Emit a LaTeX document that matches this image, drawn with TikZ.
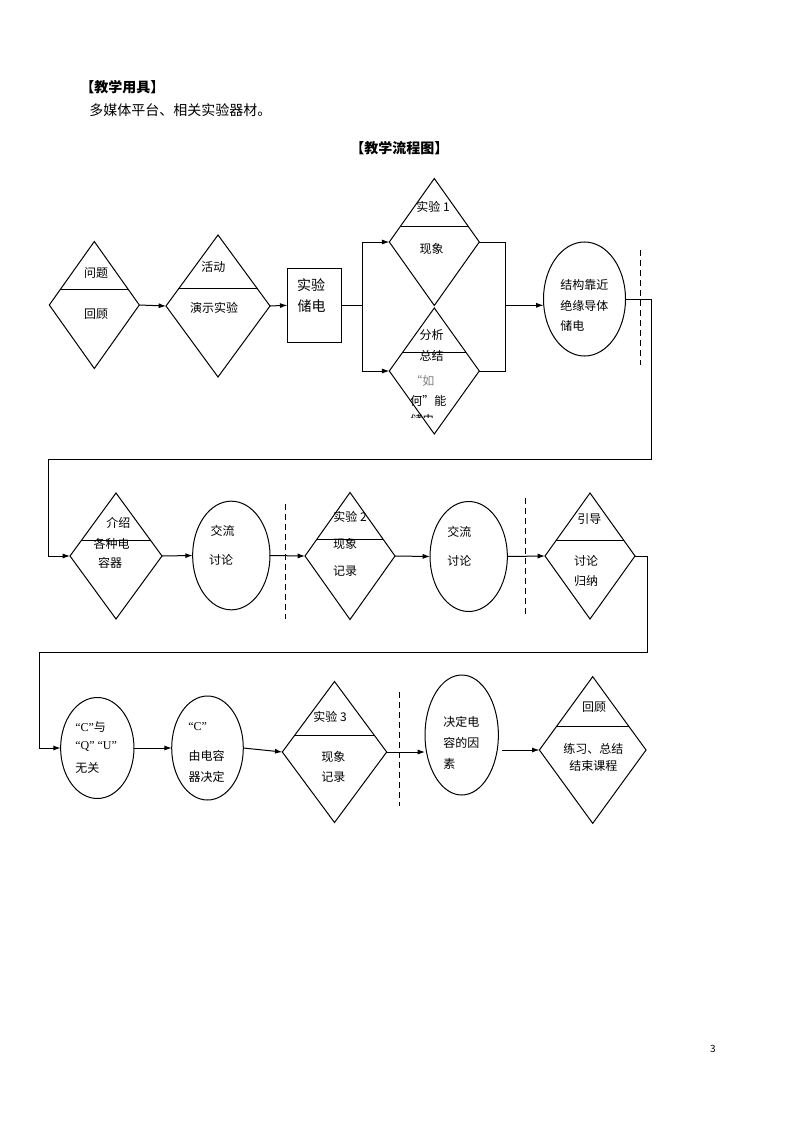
\documentclass[tikz,border=0pt]{standalone}
\usepackage{fontspec}
\setmainfont{Noto Sans CJK SC}
\newfontfamily\qfont{Liberation Serif}
\usepackage{tikz}
\usetikzlibrary{shapes.geometric}
\usetikzlibrary{arrows.meta}
\usetikzlibrary{calc}

\begin{document}
\begin{tikzpicture}[x=0.75pt,y=0.75pt,yscale=-1,xscale=1,
  dmd/.style={diamond,draw,line width=0.75pt,inner sep=0pt,outer sep=0pt},
  ell/.style={ellipse,draw,line width=0.75pt,inner sep=0pt,outer sep=0pt},
  lbl/.style={inner sep=0.75pt,font=\fontsize{9pt}{11pt}\selectfont},
  hdr/.style={anchor=west,inner sep=0pt,font=\fontsize{10.5pt}{12pt}\selectfont},
  conn/.style={line width=0.75pt,-{Latex[length=5.5pt,width=3.8pt]}},
  ln/.style={line width=0.75pt},
  dashln/.style={line width=0.75pt,dash pattern={on 4.5pt off 3pt}}]
\useasboundingbox (0,0) rectangle (794,1123);

% Text Node
\node[hdr,font=\fontsize{10.5pt}{12pt}\selectfont\bfseries] (tools) at (80,86.7) {【教学用具】};
% Text Node
\node[hdr] (toolsText) at (89,110) {多媒体平台、相关实验器材。};
% Text Node
\node[hdr,font=\fontsize{10.5pt}{12pt}\selectfont\bfseries] (flowTitle) at (350,148) {【教学流程图】};

%Shape: Diamond
\node[dmd,minimum width=67.5pt,minimum height=95.25pt] (d1) at (94.3,305) {};
\draw[ln] ($(d1.west)!0.25!(d1.north)$) -- ($(d1.east)!0.25!(d1.north)$);
%Shape: Diamond
\node[dmd,minimum width=78pt,minimum height=106.5pt] (d2) at (218,306) {};
\draw[ln] ($(d2.west)!0.24!(d2.north)$) -- ($(d2.east)!0.24!(d2.north)$);
%Shape: Rectangle
\node[draw,line width=0.75pt,inner sep=0pt,outer sep=0pt,minimum width=40.8pt,minimum height=55.5pt] (box) at (314.5,305.3) {};
%Shape: Diamond
\node[dmd,minimum width=67.5pt,minimum height=95.25pt] (d3) at (434.3,242) {};
\draw[ln] ($(d3.west)!0.25!(d3.north)$) -- ($(d3.east)!0.25!(d3.north)$);
%Shape: Diamond
\node[dmd,minimum width=67.5pt,minimum height=94.5pt] (d4) at (434.3,371) {};
\draw[ln] ($(d4.west)!0.29!(d4.north)$) -- ($(d4.east)!0.29!(d4.north)$);
%Shape: Ellipse
\node[ell,minimum width=61.5pt,minimum height=85.5pt] (e1) at (584.5,299) {};

%Shape: Diamond
\node[dmd,minimum width=69pt,minimum height=94.5pt] (d5) at (116,556) {};
\draw[ln] ($(d5.west)!0.25!(d5.north)$) -- ($(d5.east)!0.25!(d5.north)$);
%Shape: Ellipse
\node[ell,minimum width=58pt,minimum height=81.5pt] (e2) at (231.3,555.5) {};
%Shape: Diamond
\node[dmd,minimum width=67.5pt,minimum height=95.25pt] (d6) at (350,556) {};
\draw[ln] ($(d6.west)!0.26!(d6.north)$) -- ($(d6.east)!0.26!(d6.north)$);
%Shape: Ellipse
\node[ell,minimum width=58pt,minimum height=82.5pt] (e3) at (468.7,556.5) {};
%Shape: Diamond
\node[dmd,minimum width=67.5pt,minimum height=94.5pt] (d7) at (590,556) {};
\draw[ln] ($(d7.west)!0.25!(d7.north)$) -- ($(d7.east)!0.25!(d7.north)$);

%Shape: Ellipse
\node[ell,minimum width=55pt,minimum height=75.75pt] (e4) at (97.3,748) {};
%Shape: Ellipse
\node[ell,minimum width=53.7pt,minimum height=78pt] (e5) at (207.5,748) {};
%Shape: Diamond
\node[dmd,minimum width=78.3pt,minimum height=105.75pt] (d8) at (334.5,752) {};
\draw[ln] ($(d8.west)!0.24!(d8.north)$) -- ($(d8.east)!0.24!(d8.north)$);
%Shape: Ellipse
\node[ell,minimum width=55pt,minimum height=90pt] (e6) at (461.7,735) {};
%Shape: Diamond
\node[dmd,minimum width=80pt,minimum height=110pt] (d9) at (592.7,750) {};
\draw[ln] ($(d9.west)!0.32!(d9.north)$) -- ($(d9.east)!0.32!(d9.north)$);

% bend points of the connectors
\coordinate (sp1) at (362.3,305.3);
\coordinate (jn1) at (505.7,305.3);
\coordinate (c1) at (651.7,459);
\coordinate (c2) at (48,459);
\coordinate (c3) at (647.3,652);
\coordinate (c4) at (39.3,652);

%Straight Lines
\draw[conn] (d1.east) -- (d2.west);
\draw[conn] (d2.east) -- (box.west);
\draw[ln] (box.east) -- (sp1);
\draw[conn] (sp1) |- (d3.west);
\draw[conn] (sp1) |- (d4.west);
\draw[ln] (d3.east) -| (jn1) |- (d4.east);
\draw[conn] (jn1) -- (jn1 -| e1.west);
\draw[conn] (e1.east) -| (c1) -- (c2) |- (d5.west);
\draw[conn] (d5.east) -- (e2.west);
\draw[conn] (e2.east) -- (d6.west);
\draw[conn] (d6.east) -- (e3.west);
\draw[conn] (e3.east) -- (d7.west);
\draw[conn] (d7.east) -| (c3) -- (c4) |- (e4.west);
\draw[conn] (e4.east) -- (e5.west);
\draw[conn] (e5.east) -- (d8.west);
\draw[conn] (d8.east) -- (d8.east -| e6.west);
\draw[conn] ([xshift=3pt]e6.east |- d9.west) -- (d9.west);

% dashed cut lines
\draw[dashln] (640,250) -- (640,365);
\draw[dashln] (285.7,504) -- (285.7,619);
\draw[dashln] (525.7,498) -- (525.7,617);
\draw[dashln] (399.3,692) -- (399.3,806);

% Text Node
\node[lbl] (t1a) at (96,273) {问题};
\node[lbl] (t1b) at (96,314) {回顾};
\node[lbl] (t2a) at (213.3,267.3) {活动};
\node[lbl] (t2b) at (214,308) {演示实验};
\node[lbl,font=\fontsize{10.5pt}{12pt}\selectfont] (tba) at (311,285) {实验};
\node[lbl,font=\fontsize{10.5pt}{12pt}\selectfont] (tbb) at (311.7,306) {储电};
\node[lbl] (t3a) at (433,206.7) {实验 1};
\node[lbl] (t3b) at (431.7,249.3) {现象};
\node[lbl] (t4a) at (431.7,335) {分析};
\node[lbl] (t4b) at (431.7,356) {总结};
\node[lbl,anchor=west,text=gray] (t4c) at (409,380.7) {“如};
\node[lbl,anchor=west] (t4d) at (409,401) {何”能};
\begin{scope}
\clip (400,300) rectangle (470,417.5);
\node[lbl,anchor=west] (t4e) at (409,420) {储电};
\end{scope}
\node[lbl,anchor=west] (t5a) at (559,285) {结构靠近};
\node[lbl,anchor=west] (t5b) at (559,306) {绝缘导体};
\node[lbl,anchor=west] (t5c) at (559,326) {储电};

% Text Node
\node[lbl] (t6a) at (118.3,522.7) {介绍};
\node[lbl] (t6b) at (111.7,544) {各种电};
\node[lbl] (t6c) at (110,563.3) {容器};
\node[lbl] (t7a) at (222.7,530.7) {交流};
\node[lbl] (t7b) at (221,560) {讨论};
\node[lbl] (t8a) at (350,516.7) {实验 2};
\node[lbl] (t8b) at (345,544) {现象};
\node[lbl] (t8c) at (345,570.7) {记录};
\node[lbl] (t9a) at (459.3,531.7) {交流};
\node[lbl] (t9b) at (459.3,560.7) {讨论};
\node[lbl] (t10a) at (589.3,519.3) {引导};
\node[lbl] (t10b) at (586,560.7) {讨论};
\node[lbl] (t10c) at (586,580.7) {归纳};

% Text Node
\node[lbl,anchor=west] (t11a) at (74,726.7) {{\qfont “C”}与};
\node[lbl,anchor=west] (t11b) at (74,746.7) {{\qfont “Q” “U”}};
\node[lbl,anchor=west] (t11c) at (74,768.3) {无关};
\node[lbl,anchor=west] (t12a) at (187,726.7) {{\qfont “C”}};
\node[lbl] (t12b) at (206.7,756) {由电容};
\begin{scope}
\clip (170,700) rectangle (245,782.5);
\node[lbl] (t12c) at (206.7,776.7) {器决定};
\end{scope}
\node[lbl] (t13a) at (330,716.7) {实验 3};
\node[lbl] (t13b) at (333.3,757.3) {现象};
\node[lbl] (t13c) at (333.3,777.3) {记录};
\node[lbl,anchor=west] (t14a) at (442,721.7) {决定电};
\node[lbl,anchor=west] (t14b) at (442,743.3) {容的因};
\node[lbl,anchor=west] (t14c) at (442,764) {素};
\node[lbl] (t15a) at (594,707.3) {回顾};
\node[lbl] (t15b) at (593.3,749.3) {练习、总结};
\node[lbl] (t15c) at (593.3,766) {结束课程};

% Text Node
\node[lbl,font=\fontsize{7.5pt}{9pt}\selectfont] (pageNo) at (713,1049) {3};

\end{tikzpicture}
\end{document}
